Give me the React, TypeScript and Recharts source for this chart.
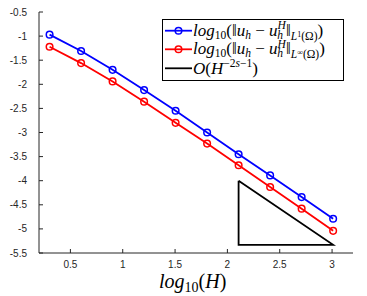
import React from 'react';
import { LineChart, Line, XAxis, YAxis } from 'recharts';

const logH = [0.30103, 0.60206, 0.90309, 1.20412, 1.50515, 1.80618, 2.10721, 2.40824, 2.70927, 3.0103];
const errL1 = [-0.97, -1.31, -1.7, -2.12, -2.55, -3.0, -3.45, -3.89, -4.34, -4.79];
const errLinf = [-1.22, -1.56, -1.94, -2.36, -2.8, -3.23, -3.68, -4.13, -4.58, -5.04];
const triX = [2.107, 2.107, 3.01, 2.107];
const triY = [-4.0, -5.33, -5.33, -4.0];
const xTicks = [0.5, 1, 1.5, 2, 2.5, 3];
const yTicks = [-5.5, -5, -4.5, -4, -3.5, -3, -2.5, -2, -1.5, -1, -0.5];

const data = logH.map((x, i) => ({ x, l1: errL1[i], linf: errLinf[i] }));
const tri = triX.map((x, i) => ({ x, y: triY[i] }));

const BLUE = '#0000ff';
const RED = '#ff0000';
const AX = '#262626';
const tickFont = { fontSize: 10, fill: AX, fontFamily: 'Liberation Sans, Arial, sans-serif' };
const serif = 'Liberation Serif, Times New Roman, serif';

function LegendRow({ y, color, marker }: { y: number; color: string; marker: boolean }) {
  return (
    <g>
      <line x1={165} x2={192} y1={y} y2={y} stroke={color} strokeWidth={1.8} />
      {marker && <circle cx={178.5} cy={y} r={3.3} fill="none" stroke={color} strokeWidth={1.5} />}
    </g>
  );
}

function NormText({ y, inf }: { y: number; inf: boolean }) {
  return (
    <text x={193} y={y} fontFamily={serif} fontSize={17} fill="#000">
      <tspan fontStyle="italic">log</tspan>
      <tspan fontSize={11.5} dy={3}>10</tspan>
      <tspan dy={-3}>(‖</tspan>
      <tspan fontStyle="italic">u</tspan>
      <tspan fontSize={11.5} fontStyle="italic" dy={3}>h</tspan>
      <tspan dy={-3}> − </tspan>
      <tspan fontStyle="italic">u</tspan>
      <tspan fontSize={11.5} fontStyle="italic" dy={-6.5}>H</tspan>
      <tspan fontSize={11.5} fontStyle="italic" dx={-8.5} dy={9.5}>h</tspan>
      <tspan dx={3} dy={-3}>‖</tspan>
      <tspan fontSize={11.5} fontStyle="italic" dy={4}>L</tspan>
      <tspan fontSize={8} dy={-3}>{inf ? '∞' : '1'}</tspan>
      <tspan fontSize={11.5} dy={3}>(Ω)</tspan>
      <tspan dy={-4}>)</tspan>
    </text>
  );
}

export default function App() {
  return (
    <div style={{ position: 'absolute', left: 0, top: 0, width: 367, height: 296, background: '#fff' }}>
      <LineChart width={367} height={296} data={data} margin={{ top: 12, right: 14, left: 0, bottom: 0 }}>
        <XAxis
          xAxisId="b"
          dataKey="x"
          type="number"
          domain={[0.2, 3.2]}
          ticks={xTicks}
          allowDataOverflow
          height={43}
          tickSize={-4}
          tickMargin={12}
          tick={tickFont}
          stroke={AX}
          tickLine={{ stroke: AX }}
          axisLine={{ stroke: AX }}
        />
        <XAxis
          xAxisId="t"
          orientation="top"
          dataKey="x"
          type="number"
          domain={[0.2, 3.2]}
          ticks={xTicks}
          allowDataOverflow
          height={0}
          tickSize={-4}
          tick={false}
          stroke={AX}
        />
        <YAxis
          yAxisId="l"
          type="number"
          domain={[-5.5, -0.5]}
          ticks={yTicks}
          allowDataOverflow
          width={39}
          tickSize={-4}
          tickMargin={16}
          tick={tickFont}
          stroke={AX}
        />
        <YAxis
          yAxisId="r"
          orientation="right"
          type="number"
          domain={[-5.5, -0.5]}
          ticks={yTicks}
          allowDataOverflow
          width={0}
          tickSize={-4}
          tick={false}
          stroke={AX}
        />
        <Line
          xAxisId="b"
          yAxisId="l"
          dataKey="l1"
          stroke={BLUE}
          strokeWidth={1.8}
          dot={{ r: 3.3, fill: 'none', stroke: BLUE, strokeWidth: 1.5 }}
          isAnimationActive={false}
        />
        <Line
          xAxisId="b"
          yAxisId="l"
          dataKey="linf"
          stroke={RED}
          strokeWidth={1.8}
          dot={{ r: 3.3, fill: 'none', stroke: RED, strokeWidth: 1.5 }}
          isAnimationActive={false}
        />
        <Line
          xAxisId="b"
          yAxisId="l"
          data={tri}
          dataKey="y"
          stroke="#000"
          strokeWidth={1.8}
          dot={false}
          isAnimationActive={false}
        />
      </LineChart>
      <svg width={367} height={296} style={{ position: 'absolute', left: 0, top: 0, pointerEvents: 'none' }}>
        <rect x={162.5} y={19.5} width={181} height={61} fill="#fff" stroke="#000" strokeWidth={1} />
        <LegendRow y={30.7} color={BLUE} marker />
        <LegendRow y={49.3} color={RED} marker />
        <LegendRow y={68.3} color="#000" marker={false} />
        <NormText y={35.5} inf={false} />
        <NormText y={54} inf />
        <text x={193} y={73.5} fontFamily={serif} fontSize={17} fill="#000">
          <tspan fontStyle="italic">O</tspan>
          <tspan>(</tspan>
          <tspan fontStyle="italic">H</tspan>
          <tspan fontSize={11.5} dy={-7}>−2</tspan>
          <tspan fontSize={11.5} fontStyle="italic">s</tspan>
          <tspan fontSize={11.5}>−1</tspan>
          <tspan dy={7}>)</tspan>
        </text>
        <text x={159} y={288} fontFamily={serif} fontSize={20} fill="#000">
          <tspan fontStyle="italic">log</tspan>
          <tspan fontSize={14} dy={4}>10</tspan>
          <tspan dy={-4}>(</tspan>
          <tspan fontStyle="italic">H</tspan>
          <tspan>)</tspan>
        </text>
      </svg>
    </div>
  );
}
